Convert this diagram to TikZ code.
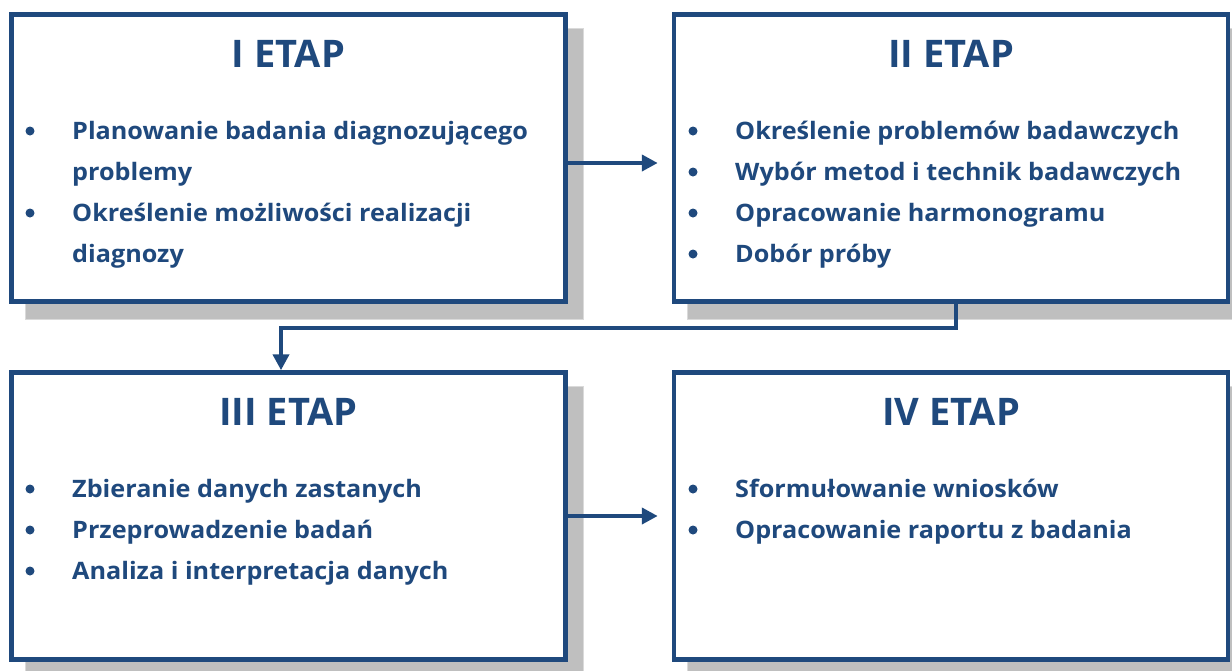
\documentclass[tikz,border=0pt]{standalone}
\usepackage{fontspec}
\setmainfont{Open Sans}
\newfontfamily\itemfont[FakeStretch=1.05]{Open Sans}
\usetikzlibrary{arrows.meta,backgrounds}
\definecolor{dblue}{HTML}{1F497D}
\definecolor{shadowgray}{HTML}{BFBFBF}
\definecolor{shadowedge}{HTML}{DADADA}
\begin{document}
\begin{tikzpicture}[x=1pt,y=-1pt,
  stagebox/.style={draw=dblue, line width=4.5pt, fill=white, inner sep=0pt,
    minimum width=554pt, minimum height=287pt},
  boxshadow/.style={fill=shadowgray, draw=shadowedge, line width=1pt},
  conn/.style={draw=dblue, line width=4pt, -{Triangle[length=16pt,width=16pt]}},
  titletext/.style={text=dblue, font=\bfseries\fontsize{38}{44}\selectfont, inner sep=0pt, anchor=base},
  itemtext/.style={text=dblue, font=\itemfont\bfseries\fontsize{24}{28}\selectfont, inner sep=0pt, anchor=base west},
  dot/.style={circle, fill=dblue, inner sep=0pt, minimum size=9pt}
]
\useasboundingbox (0,0) rectangle (1232,670);
\clip (0,0) rectangle (1232,670);

\node[stagebox] (s1) at (288.5,158) {};
\node[stagebox] (s2) at (951,158) {};
\node[stagebox] (s3) at (288.5,516) {};
\node[stagebox] (s4) at (951,516) {};

\begin{scope}[on background layer]
  \foreach \b in {s1,s2,s3,s4}{
    \path[boxshadow] ([shift={(16,16)}]\b.north west) rectangle ([shift={(16,16)}]\b.south east);
  }
\end{scope}

% connectors
\draw[conn] ([shift={(0,5)}]s1.east) -- ([shift={(-14,5)}]s2.west);
\draw[conn] ([shift={(5,0)}]s2.south) -- ++(0,24.5) -| ([shift={(-7.5,0)}]s3.north);
\draw[conn] (s3.east) -- ([shift={(-14,0)}]s4.west);

% titles
\node[titletext] (t1) at (288.5,67) {I ETAP};
\node[titletext] (t2) at (951,67) {II ETAP};
\node[titletext] (t3) at (288.5,425) {III ETAP};
\node[titletext] (t4) at (951,425) {IV ETAP};

% box I
\node[dot] (d11) at (30,131) {};
\node[itemtext] (i11) at (72,139) {Planowanie badania diagnozującego};
\node[itemtext] (i11b) at (72,180) {problemy};
\node[dot] (d12) at (30,213) {};
\node[itemtext] (i12) at (72,221) {Określenie możliwości realizacji};
\node[itemtext] (i12b) at (72,262) {diagnozy};

% box II
\node[dot] (d21) at (693,131) {};
\node[itemtext] (i21) at (735,139) {Określenie problemów badawczych};
\node[dot] (d22) at (693,172) {};
\node[itemtext] (i22) at (735,180) {Wybór metod i technik badawczych};
\node[dot] (d23) at (693,213) {};
\node[itemtext] (i23) at (735,221) {Opracowanie harmonogramu};
\node[dot] (d24) at (693,254) {};
\node[itemtext] (i24) at (735,262) {Dobór próby};

% box III
\node[dot] (d31) at (30,489) {};
\node[itemtext] (i31) at (72,497) {Zbieranie danych zastanych};
\node[dot] (d32) at (30,530) {};
\node[itemtext] (i32) at (72,538) {Przeprowadzenie badań};
\node[dot] (d33) at (30,571) {};
\node[itemtext] (i33) at (72,579) {Analiza i interpretacja danych};

% box IV
\node[dot] (d41) at (693,489) {};
\node[itemtext] (i41) at (735,497) {Sformułowanie wniosków};
\node[dot] (d42) at (693,530) {};
\node[itemtext] (i42) at (735,538) {Opracowanie raportu z badania};
\end{tikzpicture}
\end{document}
